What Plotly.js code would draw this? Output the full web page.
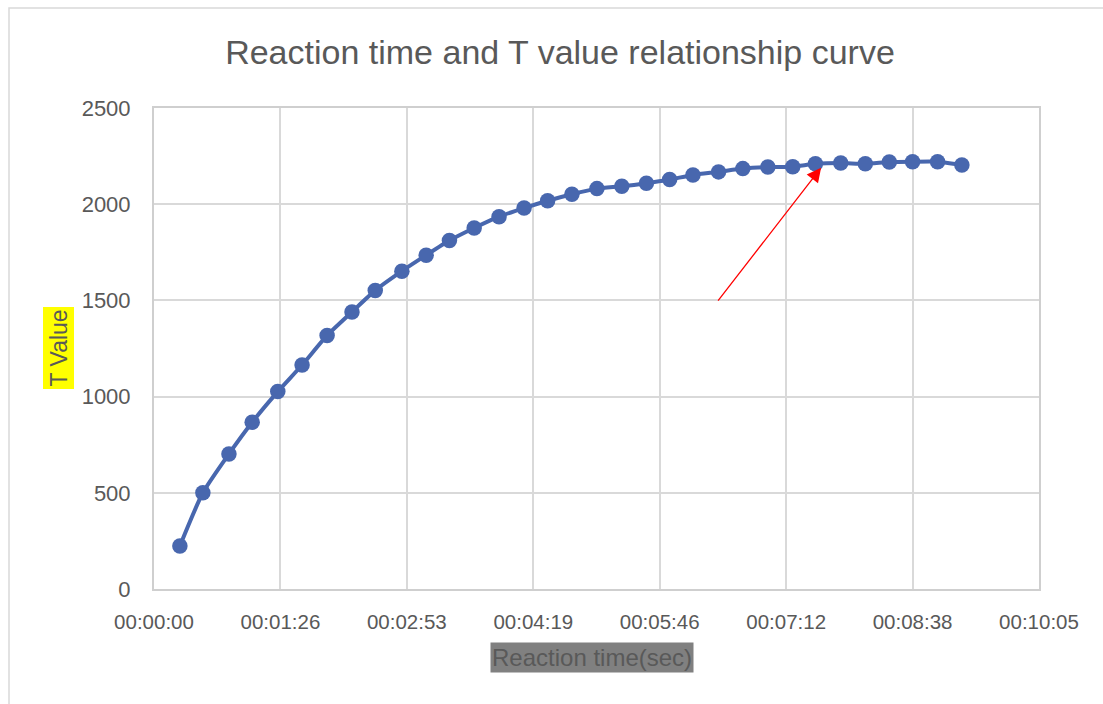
<!DOCTYPE html>
<html>
<head>
<meta charset="utf-8">
<script src="https://cdn.plot.ly/plotly-3.0.1.min.js"></script>
<style>html,body{margin:0;padding:0;background:#fff;}#chart{width:1103px;height:704px;}</style>
</head>
<body>
<div id="chart"></div>
<script>
// Reaction time in seconds
const timeSec = [17.7, 33.4, 51.2, 67.1, 84.6, 101.2, 118.3, 135.3, 151.2, 169.4,
  186.0, 201.9, 218.8, 235.8, 252.9, 269.0, 285.6, 302.7, 319.7, 336.5,
  352.4, 368.3, 385.8, 402.4, 419.5, 436.5, 452.0, 469.3, 486.1, 502.5,
  518.4, 535.5, 552.1];
const tValue = [224, 500, 702, 867, 1026, 1164, 1318, 1440, 1552, 1652,
  1735, 1811, 1876, 1935, 1980, 2018, 2052, 2081, 2093, 2109,
  2128, 2152, 2168, 2185, 2193, 2195, 2210, 2214, 2210, 2219,
  2221, 2221, 2204];
const xTickVals = [0, 86.4, 172.8, 259.2, 345.6, 432, 518.4, 604.8];
const xTickText = ["00:00:00", "00:01:26", "00:02:53", "00:04:19", "00:05:46", "00:07:12", "00:08:38", "00:10:05"];
const yTickVals = [0, 500, 1000, 1500, 2000, 2500];

const txt = '#595959';
const grid = '#d9d9d9';
const frame = '#cfcfcf';
const font = 'Liberation Sans, Arial, sans-serif';

const trace = {
  x: timeSec, y: tValue, type: 'scatter', mode: 'lines+markers',
  line: {color: '#4867AE', width: 4, shape: 'spline', smoothing: 0.6},
  marker: {color: '#4867AE', size: 15.5},
  hoverinfo: 'x+y'
};

const L = 154, R = 64, T = 108, B = 115;
const PW = 1103 - L - R, PH = 704 - T - B;
const px = v => (v - L) / PW;
const py = v => (704 - B - v) / PH;

const layout = {
  width: 1103, height: 704,
  margin: {l: L, r: R, t: T, b: B},
  paper_bgcolor: '#fff', plot_bgcolor: '#fff',
  showlegend: false,
  font: {family: font, color: txt},
  title: {text: 'Reaction time and T value relationship curve', x: 560 / 1103, xanchor: 'center', y: 1 - 52 / 704, yanchor: 'middle',
    font: {family: font, size: 34, color: txt}},
  xaxis: {range: [0, 604.8], tickvals: xTickVals, ticktext: xTickText,
    showgrid: true, gridcolor: grid, gridwidth: 2, zeroline: false,
    showline: true, mirror: true, linecolor: frame, linewidth: 2, ticks: '',
    tickfont: {family: font, size: 20.5, color: txt}, ticklabelstandoff: 13},
  yaxis: {range: [0, 2500], tickvals: yTickVals,
    showgrid: true, gridcolor: grid, gridwidth: 2, zeroline: false,
    showline: true, mirror: true, linecolor: frame, linewidth: 2, ticks: '',
    tickfont: {family: font, size: 22, color: txt}, ticklabelstandoff: 17},
  shapes: [
    {type: 'rect', xref: 'paper', yref: 'paper', x0: px(9), x1: px(1120), y0: py(720), y1: py(8),
     line: {color: '#d9d9d9', width: 1.5}}
  ],
  annotations: [
    {x: 455.9, y: 2190, ax: 384.7, ay: 1491, xref: 'x', yref: 'y', axref: 'x', ayref: 'y',
     showarrow: true, arrowhead: 2, arrowsize: 2.2, arrowwidth: 1.3, arrowcolor: '#ff0000', standoff: 0, text: ''},
    {text: 'T Value', xref: 'paper', yref: 'paper', x: px(58.5), y: py(348), xanchor: 'center', yanchor: 'middle',
     textangle: -90, showarrow: false, bgcolor: '#ffff00', borderpad: 2,
     font: {family: font, size: 23, color: txt}},
    {text: 'Reaction time(sec)', xref: 'paper', yref: 'paper', x: px(591.5), y: py(657.5), xanchor: 'center', yanchor: 'middle',
     showarrow: false, bgcolor: '#808080', borderpad: 1,
     font: {family: font, size: 24, color: txt}}
  ]
};

Plotly.newPlot('chart', [trace], layout, {displayModeBar: false});
</script>
</body>
</html>
